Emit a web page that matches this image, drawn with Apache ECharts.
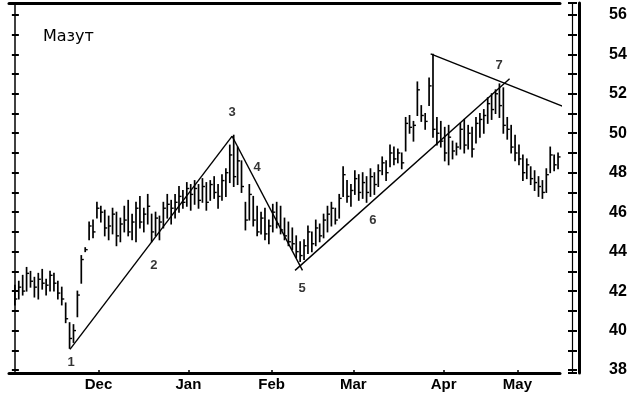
<!DOCTYPE html>
<html>
<head>
<meta charset="utf-8">
<script src="https://cdn.jsdelivr.net/npm/echarts@6/dist/echarts.min.js"></script>
<style>
html,body{margin:0;padding:0;background:#fff;}
#chart{width:628px;height:400px;}
</style>
</head>
<body>
<div id="chart"></div>
<script>
// ---- data (daily bars, index = trading day) ----
var highs = [42.3,42.5,42.8,43.2,43.0,42.7,42.9,43.1,42.6,43.0,42.9,42.5,42.2,
  41.4,40.4,40.3,42.0,43.8,44.2,45.5,45.6,46.5,46.3,
  46.1,45.8,46.2,46.0,45.7,46.3,46.6,45.9,46.5,46.8,46.2,46.9,45.9,46.0,45.8,46.5,46.9,
  46.6,46.9,47.3,47.1,47.5,47.4,
  47.6,47.4,47.7,47.5,47.6,47.8,47.4,47.9,48.2,49.4,49.9,49.3,48.6,
  46.5,47.4,46.8,46.3,46.0,46.2,45.6,46.4,46.5,46.3,45.7,45.5,45.2,44.8,44.5,44.6,
  45.3,45.0,45.6,45.4,45.9,46.3,46.5,46.2,46.9,48.3,47.6,47.4,48.1,47.9,48.0,47.8,
  48.2,48.0,48.4,48.8,48.6,49.4,49.3,49.2,49.0,50.8,50.9,50.6,52.6,51.4,51.0,52.8,54.0,
  50.8,50.6,50.3,50.4,49.6,49.5,50.5,50.7,50.4,50.3,50.8,51.0,51.2,51.8,52.0,52.2,52.5,
  52.3,50.8,50.4,49.9,49.4,48.9,48.7,48.3,48.1,47.8,47.6,48.2,49.3,48.9,49.0];
var lows = [41.3,41.6,41.8,42.0,42.2,41.7,41.6,42.1,41.8,42.0,42.0,41.6,41.3,
  40.4,39.1,39.4,40.7,42.4,44.0,44.6,44.7,45.7,45.5,
  44.8,44.6,44.9,44.3,44.5,45.0,44.8,44.6,44.5,45.2,45.0,45.4,44.5,44.8,44.6,45.2,45.7,
  45.4,45.7,46.0,46.2,46.3,46.1,
  46.4,46.2,46.5,46.1,46.6,46.7,46.2,46.6,46.8,47.5,47.3,47.4,47.0,
  45.1,45.6,45.3,44.8,44.9,44.6,44.4,45.0,45.2,44.9,44.6,44.3,44.1,43.7,43.5,43.6,
  43.9,44.0,44.3,44.5,44.7,45.0,45.3,45.4,45.7,46.8,46.5,46.3,46.9,46.6,46.7,46.5,
  46.8,46.9,47.3,47.9,47.6,48.3,48.4,48.5,48.2,49.1,50.0,49.6,50.9,50.6,50.2,51.4,49.8,
  49.4,49.3,48.6,48.4,48.7,48.9,49.2,49.0,49.2,48.8,49.5,49.8,50.0,50.5,50.7,51.0,50.8,
  50.0,49.7,49.0,48.6,48.4,47.6,47.7,47.4,47.1,46.8,46.7,47.0,48.0,48.1,48.2];
var closes = [41.6,42.2,42.0,42.9,42.5,42.2,42.6,42.4,42.3,42.8,42.4,41.9,41.6,
  40.6,39.6,40.0,41.8,43.6,44.1,45.3,45.0,46.2,46.0,
  45.2,45.3,45.9,44.8,45.4,45.6,45.0,45.5,46.2,45.5,45.9,46.3,45.0,45.7,45.5,46.2,46.4,
  46.2,46.5,46.8,46.5,47.2,46.9,
  47.2,46.6,47.3,46.5,47.4,47.0,46.8,47.6,48.0,48.9,47.8,48.6,47.3,
  45.6,46.9,45.6,45.0,45.7,44.9,45.3,46.0,45.4,45.1,44.8,44.5,44.4,44.0,43.8,44.3,
  45.0,44.4,45.2,44.8,45.6,45.9,46.2,45.6,46.7,47.9,46.8,47.1,47.7,47.0,47.5,47.0,
  47.8,47.4,48.1,48.5,48.0,49.0,48.7,49.0,48.5,50.5,50.3,50.4,52.2,50.9,50.6,52.4,50.2,
  50.0,49.6,49.0,49.8,49.1,49.3,50.2,49.4,50.0,49.2,50.5,50.7,50.9,51.5,51.2,52.0,51.4,
  50.4,50.2,49.3,49.0,48.7,48.0,48.4,47.7,47.5,47.3,47.0,47.9,48.9,48.4,48.8];

// month labels: bar index of first trading day and name
var monthPos = [21.4, 44.4, 65.7, 86.6, 109.7, 128.6];
var monthNames = ['Dec', 'Jan', 'Feb', 'Mar', 'Apr', 'May'];

// trend lines [startIndex, startValue, endIndex, endValue]
var trendLines = [
  [14.1, 39.05, 55.6, 49.85],
  [55.6, 49.85, 73.6, 43.05],
  [71.7, 43.05, 126.6, 52.76],
  [106.4, 54.02, 142.5, 51.18]
];

// wave point labels [index, value, text]
var wavePoints = [
  [14.4, 38.41, '1'],
  [35.6, 43.32, '2'],
  [55.6, 51.03, '3'],
  [62.0, 48.29, '4'],
  [73.5, 42.16, '5'],
  [91.6, 45.60, '6'],
  [123.9, 53.46, '7']
];

var titleText = 'Мазут';
var yMin = 37.85, yMax = 56.6;

// ---- chart ----
var bars = highs.map(function (h, i) { return [i, h, lows[i], closes[i]]; });
var axisFont = "'Liberation Sans', Arial, sans-serif";

function yAx(extra) {
  var base = {
    type: 'value', min: yMin, max: yMax, splitNumber: 18,
    minInterval: 1, maxInterval: 1,
    splitLine: { show: false },
    axisLine: { show: false },
    axisTick: { show: false },
    axisLabel: { show: false }
  };
  for (var key in extra) base[key] = extra[key];
  return base;
}

var series = [{
  type: 'custom',
  xAxisIndex: 0, yAxisIndex: 0,
  data: bars,
  encode: { x: 0, y: [1, 2, 3] },
  renderItem: function (params, api) {
    var k = api.value(0);
    var hi = api.coord([k, api.value(1)]);
    var lo = api.coord([k, api.value(2)]);
    var cl = api.coord([k, api.value(3)]);
    return {
      type: 'group',
      children: [
        { type: 'line', shape: { x1: hi[0], y1: hi[1] - 0.5, x2: lo[0], y2: lo[1] + 0.5 }, style: { stroke: '#000', lineWidth: 1.7 } },
        { type: 'line', shape: { x1: cl[0], y1: cl[1], x2: cl[0] + 2.5, y2: cl[1] }, style: { stroke: '#000', lineWidth: 1.4 } }
      ]
    };
  }
}];

trendLines.forEach(function (t) {
  series.push({
    type: 'line', xAxisIndex: 0, yAxisIndex: 0, clip: false,
    data: [[t[0], t[1]], [t[2], t[3]]],
    symbol: 'none', silent: true,
    lineStyle: { color: '#000', width: 1.4 }
  });
});

series.push({
  type: 'scatter', xAxisIndex: 0, yAxisIndex: 0,
  data: wavePoints, symbolSize: 0, silent: true,
  label: {
    show: true, position: 'inside',
    formatter: function (p) { return p.data[2]; },
    color: '#000', textBorderWidth: 0, fontFamily: 'Liberation Sans, Arial, sans-serif',
    fontWeight: 'bold', fontSize: 13
  }
});

var option = {
  animation: false,
  backgroundColor: '#fff',
  title: {
    text: titleText, left: 38, top: 24,
    textStyle: { fontFamily: 'DejaVu Sans', fontSize: 16, fontWeight: 'normal', color: '#000' }
  },
  grid: { left: 9, right: 68, top: 3, bottom: 27, outerBoundsMode: 'none', containLabel: false },
  xAxis: [{
    type: 'value', position: 'bottom', min: -1.5, max: 139.5,
    splitLine: { show: false },
    axisLine: { show: true, lineStyle: { color: '#000', width: 3 } },
    axisTick: { show: true, inside: true, length: 3, customValues: monthPos, lineStyle: { color: '#000', width: 1.5 } },
    axisLabel: {
      show: true, customValues: monthPos, margin: 4,
      color: '#000', fontFamily: axisFont, fontWeight: 'bold', fontSize: 15,
      formatter: function (v) {
        var best = 0, d = 1e9;
        for (var i = 0; i < monthPos.length; i++) { var dd = Math.abs(monthPos[i] - v); if (dd < d) { d = dd; best = i; } }
        return monthNames[best];
      }
    }
  }, {
    type: 'value', position: 'top', min: -1.5, max: 139.5,
    splitLine: { show: false },
    axisLine: { show: true, lineStyle: { color: '#000', width: 3 } },
    axisTick: { show: false }, axisLabel: { show: false }
  }],
  yAxis: [
    yAx({ position: 'left', axisLine: { show: true, lineStyle: { color: '#000', width: 1.5 } },
      axisTick: { show: true, length: 3, lineStyle: { color: '#000', width: 2 } } }),
    yAx({ position: 'left', axisTick: { show: true, inside: true, length: 4, lineStyle: { color: '#000', width: 2 } } }),
    yAx({ position: 'right', offset: 12, axisLine: { show: true, lineStyle: { color: '#000', width: 1.2 } },
      axisTick: { show: true, length: 5, lineStyle: { color: '#000', width: 2 } } }),
    yAx({ position: 'right', offset: 12, axisTick: { show: true, inside: true, length: 4, lineStyle: { color: '#000', width: 2 } } }),
    yAx({ position: 'right', offset: 19, axisLine: { show: true, lineStyle: { color: '#000', width: 3 } },
      axisLabel: {
        show: true, margin: 30, color: '#000', fontFamily: axisFont, fontWeight: 'bold', fontSize: 16,
        formatter: function (v) { return (Math.abs(v - Math.round(v)) < 1e-6 && Math.round(v) % 2 === 0) ? String(Math.round(v)) : ''; }
      } })
  ],
  series: series
};

var chart = echarts.init(document.getElementById('chart'), null, { renderer: 'canvas' });
chart.setOption(option);
</script>
</body>
</html>
